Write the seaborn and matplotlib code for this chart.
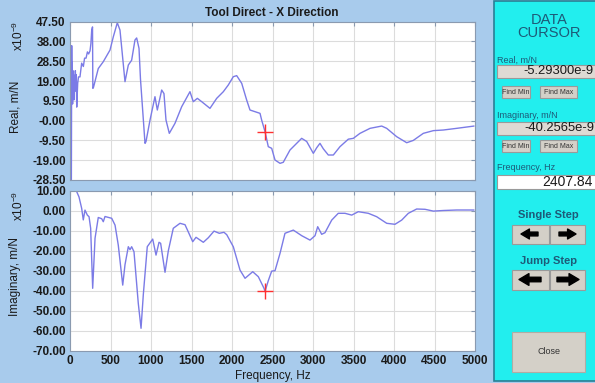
import seaborn as sns
import matplotlib.pyplot as plt
from matplotlib.patches import Rectangle, FancyArrowPatch
import pandas as pd

# real part of the FRF, x10^-9 m/N
freq_real = [15, 21, 25, 28, 32, 36, 40, 45, 50, 55, 60, 66, 72, 78, 83, 95, 105, 123, 144,
             165, 180, 198, 215, 230, 247, 258, 268, 278, 282, 290, 349, 411, 494, 535, 584,
             617, 679, 720, 761, 802, 823, 852, 870, 926, 938, 988, 1049, 1078, 1132, 1160,
             1185, 1226, 1296, 1379, 1481, 1522, 1572, 1626, 1728, 1811, 1893, 1954, 2016,
             2058, 2120, 2181, 2222, 2284, 2346, 2366, 2408, 2448, 2490, 2531, 2593, 2633,
             2716, 2860, 2922, 3004, 3046, 3086, 3127, 3189, 3251, 3333, 3436, 3498, 3580,
             3704, 3848, 3910, 4033, 4157, 4238, 4362, 4486, 4609, 4774, 4988]
real_vals = [-60, 36, 12, 28, 8, 24, 14, 22, 10, 19, 14, 24, 17, 22, 6.5, 18, 21, 21, 27.6,
             26, 30, 30, 33, 32, 33.5, 37, 43.5, 45, 15.5, 16, 25, 28.3, 33.9, 40.3, 47,
             43.5, 18.7, 26.7, 29, 38.7, 39.7, 34.7, 20, -10.9, -10.1, 0.3, 11.5, 5.1, 14.7, 13,
             0.3, -6.1, -1.3, 6.7, 13.9, 9.1, 10.7, 9.1, 5.9, 10.7, 13.9, 17.1, 21.1,
             21.6, 17.9, 9.9, 5.1, 4.3, 3.5, 0.3, -5.3, -12.5, -13.3, -18.9, -20.5, -20.0,
             -14.1, -8.5, -10.0, -15.7, -13.0, -10.9, -13.5, -16.5, -16.5, -12.5, -8.9, -8.5, -6.1,
             -3.7, -2.6, -3.7, -7.7, -10.6, -9.5, -6.1, -4.8, -4.5, -3.7, -2.6]

# imaginary part of the FRF, x10^-9 m/N
freq_imag = [50, 83, 111, 144, 164, 185, 214, 235, 255, 280, 309, 349, 391, 411, 432, 515,
             556, 596, 651, 679, 720, 741, 761, 790, 843, 877, 905, 954, 1021, 1062, 1099,
             1119, 1173, 1214, 1275, 1358, 1420, 1515, 1556, 1646, 1708, 1778, 1843, 1901,
             1935, 2016, 2099, 2161, 2256, 2325, 2395, 2408, 2448, 2490, 2531, 2593, 2654,
             2757, 2861, 2963, 3025, 3058, 3107, 3148, 3231, 3312, 3395, 3478, 3559, 3683,
             3786, 3910, 4012, 4095, 4177, 4280, 4383, 4486, 4609, 4774, 4988]
imag_vals = [20, 9.5, 6.9, 1.2, -4.6, 0.3, -2.2, -3, -8.8, -38.8, -13.8, -3.4, -4, -5.5, -2.9, -3.8,
             -7.2, -17.2, -37.2, -27, -18, -19.5, -18, -20.5, -46.3, -58.8, -42, -18, -14.2, -22.2, -15.8,
             -16.3, -30.8, -20, -8.8, -6.3, -7, -15.5, -13.3, -15.8, -13.5, -10.2, -11.3, -10.8,
             -12, -18, -29.7, -33.8, -30.5, -33, -38.8, -40.26, -35, -30.2, -30, -21.3, -11.3,
             -9.7, -12.5, -14.7, -12.5, -8, -11.8, -11, -4.7, -1.3, -1.3, -2.2, -0.5, -1.3,
             -3, -6.3, -6.8, -4.7, -1.3, 0.85, 0.7, -0.2, 0.1, 0.35, 0.35]

cursor_freq = 2407.84
cursor_real = -5.293
cursor_imag = -40.2565

x_ticks = [0, 500, 1000, 1500, 2000, 2500, 3000, 3500, 4000, 4500, 5000]
real_ticks = [47.5, 38, 28.5, 19, 9.5, 0, -9.5, -19, -28.5]
real_ticklabels = ['47.50', '38.00', '28.50', '19.00', '9.50', '-0.00', '-9.50', '-19.00', '-28.50']
imag_ticks = [10, 0, -10, -20, -30, -40, -50, -60, -70]
imag_ticklabels = ['10.00', '0.00', '-10.00', '-20.00', '-30.00', '-40.00', '-50.00', '-60.00', '-70.00']

BG = '#a8cbec'
CYAN = '#22eeee'
LINE = '#7b7be6'
BTN = '#d4d0c8'
TEAL = '#1d5a78'

W, H = 595, 383


def fx(x):
    return x / W


def fy(y):
    return 1 - y / H


sns.set_style('white')
plt.rcParams['font.family'] = ['Liberation Sans', 'DejaVu Sans']
plt.rcParams['mathtext.default'] = 'regular'

fig = plt.figure(figsize=(5.95, 3.83), dpi=100, facecolor=BG)


def add_axes(left, top, right, bottom):
    return fig.add_axes([fx(left), fy(bottom), (right - left) / W, (bottom - top) / H])


def style_axes(ax, ticks, labels, ylim):
    ax.set_facecolor('white')
    ax.set_xlim(0, 5000)
    ax.set_ylim(*ylim)
    ax.set_xticks(x_ticks)
    ax.set_yticks(ticks)
    ax.set_yticklabels(labels)
    ax.grid(True, color='#dcdcdc', linewidth=0.8)
    ax.tick_params(direction='in', length=3, top=True, right=True, labelsize=8.5,
                   color='#8a9ab0', labelcolor='#1a1a1a', pad=3)
    for s in ax.spines.values():
        s.set_color('#8a9ab0')
        s.set_linewidth(0.8)
    for lab in ax.get_yticklabels() + ax.get_xticklabels():
        lab.set_fontweight('bold')
    ax.set_xlabel('')
    ax.set_ylabel('')


# --- plots ---
real_df = pd.DataFrame({'freq': freq_real, 'val': real_vals})
imag_df = pd.DataFrame({'freq': freq_imag, 'val': imag_vals})

ax1 = add_axes(70, 21.7, 475, 180)
sns.lineplot(data=real_df, x='freq', y='val', ax=ax1, color=LINE, linewidth=1,
             estimator=None, sort=False)
sns.scatterplot(x=[cursor_freq], y=[cursor_real], ax=ax1, marker='+', s=120,
                color='#ff3030', linewidth=1, zorder=5)
style_axes(ax1, real_ticks, real_ticklabels, (-28.5, 47.5))
ax1.tick_params(labelbottom=False)

ax2 = add_axes(70, 190.7, 475, 350.7)
sns.lineplot(data=imag_df, x='freq', y='val', ax=ax2, color=LINE, linewidth=1,
             estimator=None, sort=False)
sns.scatterplot(x=[cursor_freq], y=[cursor_imag], ax=ax2, marker='+', s=120,
                color='#ff3030', linewidth=1, zorder=5)
style_axes(ax2, imag_ticks, imag_ticklabels, (-70, 10))

# --- labels ---
fig.text(fx(272), fy(13), 'Tool Direct - X Direction', ha='center', va='center',
         fontsize=8.5, fontweight='bold', color='#1a1a1a')
fig.text(fx(273), fy(376), 'Frequency, Hz', ha='center', va='center', fontsize=8.5, color='#1a1a1a')
fig.text(fx(15), fy(107), 'Real, m/N', rotation=90, ha='center', va='center', fontsize=8.5, color='#1a1a1a')
fig.text(fx(18), fy(36), r'x10$^{-9}$', rotation=90, ha='center', va='center', fontsize=8.5, color='#1a1a1a')
fig.text(fx(15), fy(277), 'Imaginary, m/N', rotation=90, ha='center', va='center', fontsize=8.5, color='#1a1a1a')
fig.text(fx(18), fy(206), r'x10$^{-9}$', rotation=90, ha='center', va='center', fontsize=8.5, color='#1a1a1a')


# --- data cursor panel ---
def box(x0, y0, x1, y1, fc, ec='#9a9a9a', lw=0.8):
    fig.patches.append(Rectangle((fx(x0), fy(y1)), (x1 - x0) / W, (y1 - y0) / H,
                                 transform=fig.transFigure, facecolor=fc, edgecolor=ec,
                                 linewidth=lw, clip_on=False))


def label(x, y, s, size, ha='left', **kw):
    fig.text(fx(x), fy(y), s, ha=ha, va='center', fontsize=size, **kw)


def arrow(x0, x1, y, scale):
    fig.patches.append(FancyArrowPatch((fx(x0), fy(y)), (fx(x1), fy(y)),
                                       transform=fig.transFigure, color='black',
                                       arrowstyle='simple,head_length=0.55,head_width=0.65,tail_width=0.25',
                                       mutation_scale=scale, shrinkA=0, shrinkB=0))


box(494, 1, 600, 381, CYAN, ec='#2a7f95', lw=1.2)
label(549, 20, 'DATA', 10.5, ha='center', color=TEAL)
label(549, 33, 'CURSOR', 10.5, ha='center', color=TEAL)

label(497, 60, 'Real, m/N', 6.5, color=TEAL)
box(497, 64.5, 600, 78, '#dedad4')
label(523, 71.5, '-5.29300e-9', 9.4, color='#1a1a1a')
box(502, 86, 530, 98, BTN)
label(516, 92, 'Find Min', 5, ha='center', color='#333333')
box(540, 86, 577, 98, BTN)
label(558.5, 92, 'Find Max', 5, ha='center', color='#333333')

label(497, 115, 'Imaginary, m/N', 6.5, color=TEAL)
box(497, 121.5, 600, 135, '#dedad4')
label(524, 128.5, '-40.2565e-9', 9.4, color='#1a1a1a')
box(502, 140, 530, 152, BTN)
label(516, 146, 'Find Min', 5, ha='center', color='#333333')
box(540, 140, 577, 152, BTN)
label(558.5, 146, 'Find Max', 5, ha='center', color='#333333')

label(497, 167, 'Frequency, Hz', 6.5, color=TEAL)
box(497, 175, 600, 188.5, 'white')
label(593, 182, '2407.84', 10, ha='right', color='#1a1a1a')

label(548.5, 215, 'Single Step', 8, ha='center', fontweight='bold', color=TEAL)
box(512, 225, 548.5, 243.5, BTN)
box(549.5, 225, 585, 243.5, BTN)
arrow(538, 521, 234, 11)
arrow(559, 576, 234, 11)

label(548.5, 261, 'Jump Step', 8, ha='center', fontweight='bold', color=TEAL)
box(512, 270, 548.5, 289.5, BTN)
box(549.5, 270, 585, 289.5, BTN)
arrow(541, 519, 279.5, 13)
arrow(557, 579, 279.5, 13)

box(512, 331.5, 585, 372, BTN, ec='#b0aca4')
label(548.5, 352, 'Close', 6.5, ha='center', color='#333333')

fig.savefig('out.png', dpi=100, facecolor=BG)
